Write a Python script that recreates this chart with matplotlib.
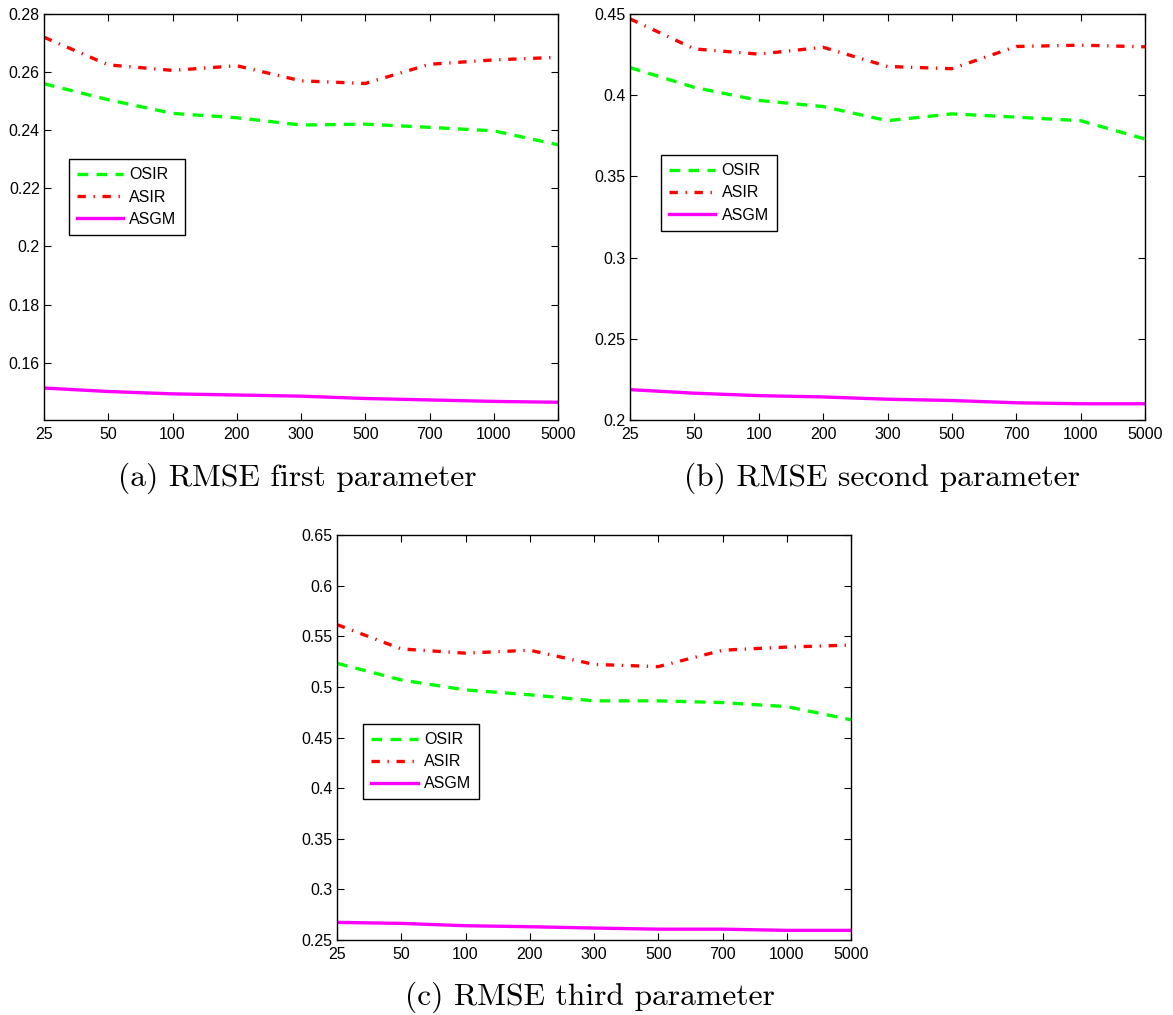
import matplotlib
matplotlib.use("Agg")
import matplotlib.pyplot as plt
import numpy as np

# Sample sizes along the x axis (equally spaced categories)
sample_sizes = ["25", "50", "100", "200", "300", "500", "700", "1000", "5000"]

# RMSE of the first parameter
osir_p1 = [0.2560, 0.2505, 0.2458, 0.2443, 0.2418, 0.2421, 0.2410, 0.2398, 0.2350]
asir_p1 = [0.2720, 0.2625, 0.2606, 0.2622, 0.2570, 0.2561, 0.2627, 0.2642, 0.2651]
asgm_p1 = [0.1513, 0.1501, 0.1493, 0.1489, 0.1485, 0.1477, 0.1472, 0.1467, 0.1464]

# RMSE of the second parameter
osir_p2 = [0.4170, 0.4048, 0.3968, 0.3930, 0.3843, 0.3885, 0.3865, 0.3843, 0.3730]
asir_p2 = [0.4470, 0.4285, 0.4253, 0.4295, 0.4177, 0.4163, 0.4300, 0.4308, 0.4298]
asgm_p2 = [0.2187, 0.2165, 0.2150, 0.2142, 0.2128, 0.2120, 0.2106, 0.2100, 0.2100]

# RMSE of the third parameter
osir_p3 = [0.5233, 0.5068, 0.4970, 0.4922, 0.4862, 0.4862, 0.4845, 0.4805, 0.4675]
asir_p3 = [0.5615, 0.5375, 0.5333, 0.5362, 0.5222, 0.5200, 0.5362, 0.5393, 0.5413]
asgm_p3 = [0.2674, 0.2664, 0.2641, 0.2631, 0.2618, 0.2607, 0.2607, 0.2595, 0.2595]

series_names = ["OSIR", "ASIR", "ASGM"]
captions = ["(a) RMSE first parameter", "(b) RMSE second parameter",
            "(c) RMSE third parameter"]

W, H = 1173, 1015
fig = plt.figure(figsize=(W / 100, H / 100), dpi=100)
fig.patch.set_facecolor("white")

tick_font = "Liberation Sans"
tick_size = 11.5


def px_axes(left, top, right, bottom):
    return fig.add_axes([left / W, 1 - bottom / H, (right - left) / W, (bottom - top) / H])


def draw_panel(ax, osir, asir, asgm, ylim, yticks, yticklabels, leg_anchor):
    x = np.arange(len(sample_sizes))
    ax.plot(x, osir, color="#00ff00", lw=2.4, linestyle=(0, (3.2, 2.5)), label=series_names[0])
    ax.plot(x, asir, color="#ff0000", lw=2.4, linestyle=(0, (2.5, 2.3, 0.4, 2.3)), label=series_names[1])
    ax.plot(x, asgm, color="#ff00ff", lw=2.4, linestyle="-", label=series_names[2])
    ax.set_xlim(0, len(sample_sizes) - 1)
    ax.set_ylim(*ylim)
    ax.set_xticks(x)
    ax.set_xticklabels(sample_sizes, fontfamily=tick_font, fontsize=tick_size)
    ax.set_yticks(yticks)
    ax.set_yticklabels(yticklabels, fontfamily=tick_font, fontsize=tick_size)
    ax.tick_params(direction="in", length=5, width=0.8, top=True, right=True, pad=3)
    ax.tick_params(axis="x", pad=5)
    for sp in ax.spines.values():
        sp.set_linewidth(1.0)
    leg = ax.legend(loc="upper left", bbox_to_anchor=leg_anchor, borderaxespad=0,
                    fancybox=False, frameon=True, edgecolor="black", framealpha=1,
                    prop={"family": tick_font, "size": tick_size}, handlelength=2.9,
                    handletextpad=0.4, labelspacing=0.45, borderpad=0.5)
    leg.get_frame().set_linewidth(1.0)


ax1 = px_axes(44, 14, 558, 420)
draw_panel(ax1, osir_p1, asir_p1, asgm_p1, (0.1403, 0.28),
           [0.16, 0.18, 0.2, 0.22, 0.24, 0.26, 0.28],
           ["0.16", "0.18", "0.2", "0.22", "0.24", "0.26", "0.28"],
           (0.048, 0.642))

ax2 = px_axes(630, 14, 1145, 420)
draw_panel(ax2, osir_p2, asir_p2, asgm_p2, (0.2, 0.45),
           [0.2, 0.25, 0.3, 0.35, 0.4, 0.45],
           ["0.2", "0.25", "0.3", "0.35", "0.4", "0.45"],
           (0.060, 0.652))

ax3 = px_axes(337, 535, 851, 940)
draw_panel(ax3, osir_p3, asir_p3, asgm_p3, (0.25, 0.65),
           [0.25, 0.3, 0.35, 0.4, 0.45, 0.5, 0.55, 0.6, 0.65],
           ["0.25", "0.3", "0.35", "0.4", "0.45", "0.5", "0.55", "0.6", "0.65"],
           (0.051, 0.533))

cap_kw = dict(fontfamily="cmr10", fontsize=22.7, ha="center", va="center")
fig.text(297 / W, 1 - 478 / H, captions[0], **cap_kw)
fig.text(882 / W, 1 - 478 / H, captions[1], **cap_kw)
fig.text(590 / W, 1 - 997 / H, captions[2], **cap_kw)

fig.savefig("out.png", dpi=100, facecolor="white")
